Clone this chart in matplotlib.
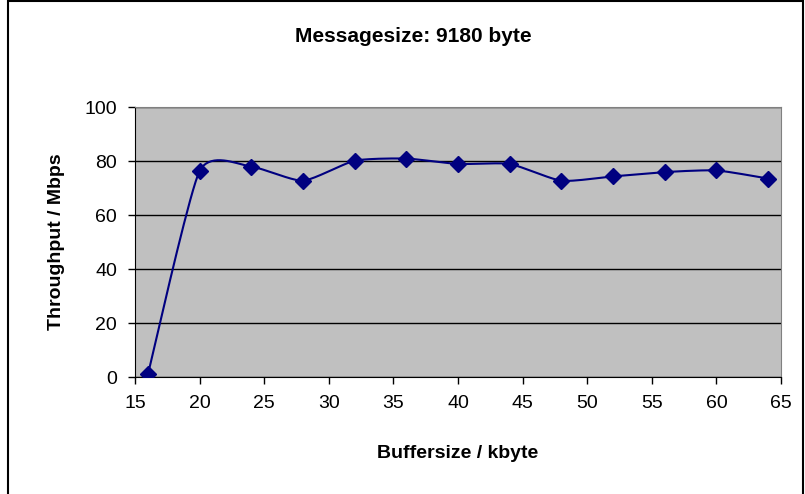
import matplotlib.pyplot as plt
import numpy as np
from matplotlib.patches import Rectangle

plt.rcParams['font.family'] = ['Liberation Sans', 'DejaVu Sans']

# data
buffersize = [16, 20, 24, 28, 32, 36, 40, 44, 48, 52, 56, 60, 64]
throughput = [1.0, 76.3, 77.9, 72.7, 80.1, 80.9, 78.9, 78.9, 72.7, 74.3, 75.9, 76.5, 73.5]
xticks = [15, 20, 25, 30, 35, 40, 45, 50, 55, 60, 65]
yticks = [0, 20, 40, 60, 80, 100]


def smooth(x, y, k=0.3, n=20):
    # cardinal curve through the points, like excel's smoothed line
    x = np.asarray(x, float)
    y = np.asarray(y, float)
    px = np.concatenate([[x[0]], x, [x[-1]]])
    py = np.concatenate([[y[0]], y, [y[-1]]])
    t = np.linspace(0, 1, n)
    h00 = 2 * t ** 3 - 3 * t ** 2 + 1
    h10 = t ** 3 - 2 * t ** 2 + t
    h01 = -2 * t ** 3 + 3 * t ** 2
    h11 = t ** 3 - t ** 2
    xs, ys = [], []
    for i in range(1, len(px) - 2):
        for p, out in ((px, xs), (py, ys)):
            m1 = k * (p[i + 1] - p[i - 1])
            m2 = k * (p[i + 2] - p[i])
            out.append(h00 * p[i] + h10 * m1 + h01 * p[i + 1] + h11 * m2)
    return np.concatenate(xs), np.concatenate(ys)


fig = plt.figure(figsize=(8.05, 4.94), dpi=100)
ax = fig.add_axes([135 / 805, 1 - 377 / 494, 646 / 805, 270 / 494])
ax.set_facecolor('#c0c0c0')

sx, sy = smooth(buffersize, throughput)
ax.plot(sx, sy, color='#000080', lw=1.5, zorder=3)
ax.plot(buffersize, throughput, ls='none', marker='D', color='#000080', ms=8, zorder=4)

ax.set_xlim(15, 65)
ax.set_ylim(0, 100)
ax.set_xticks(xticks)
ax.set_yticks(yticks)
ax.tick_params(direction='out', length=5, width=1, labelsize=14, pad=8)
ax.yaxis.grid(True, color='black', lw=1)
ax.set_axisbelow(True)
for s in ('top', 'right'):
    ax.spines[s].set_color('#808080')
for s in ('left', 'bottom'):
    ax.spines[s].set_color('black')

ax.set_xlabel('Buffersize / kbyte', fontsize=14, fontweight='bold', labelpad=24)
ax.set_ylabel('Throughput / Mbps', fontsize=14, fontweight='bold', labelpad=14)
fig.text(413 / 805, 1 - 36 / 494, 'Messagesize: 9180 byte', ha='center', va='center',
         fontsize=15, fontweight='bold')

fig.patches.append(Rectangle((8 / 805, -0.01), 795 / 805, 1 - 1 / 494 + 0.01,
                             transform=fig.transFigure, fill=False, ec='black', lw=1.5))

fig.savefig('out.png', dpi=100)
